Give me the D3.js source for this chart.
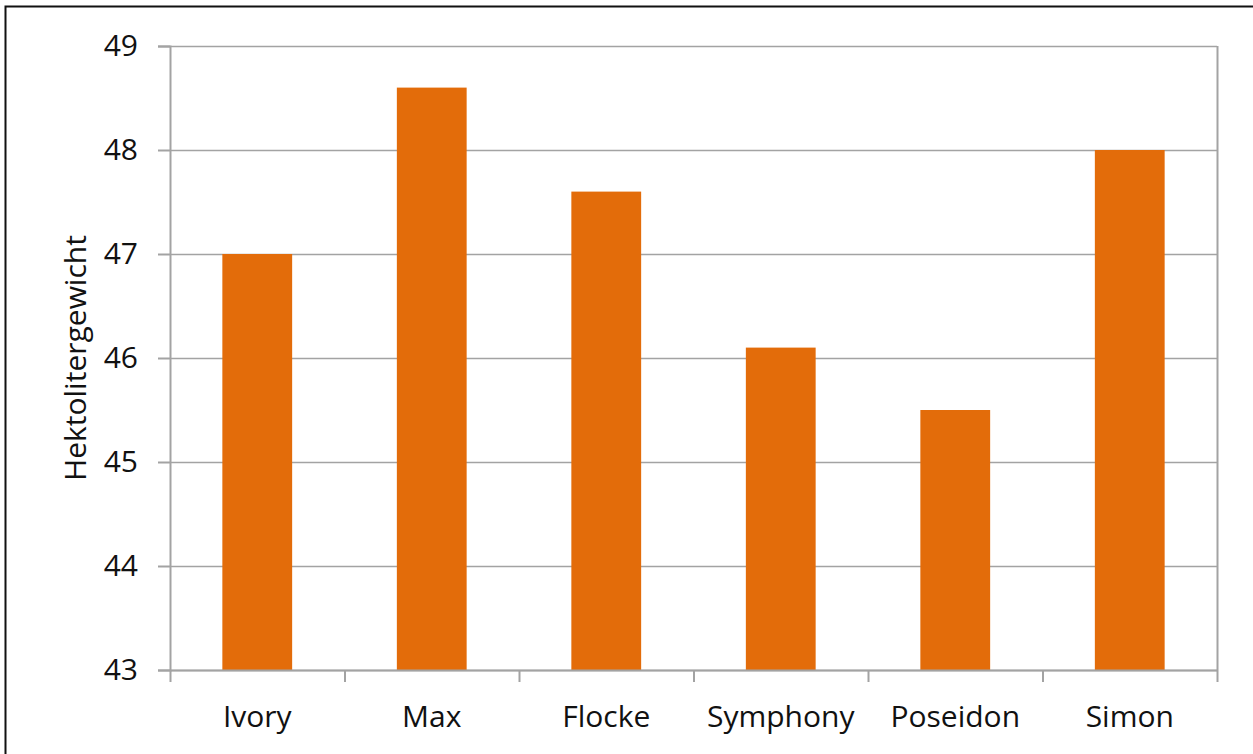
<!DOCTYPE html>
<html>
<head>
<meta charset="utf-8">
<script src="https://cdn.jsdelivr.net/npm/d3@7"></script>
<style>
  body { margin: 0; background: #fff; }
  text { font-family: "Open Sans", sans-serif; fill: #111; }
</style>
</head>
<body>
<div id="chart"></div>
<script>
// Data
var varieties = ["Ivory", "Max", "Flocke", "Symphony", "Poseidon", "Simon"];
var weights = [47.0, 48.6, 47.6, 46.1, 45.5, 48.0];
var yTicks = [43, 44, 45, 46, 47, 48, 49];
var yLabel = "Hektolitergewicht";

var svgWidth = 1253;
var svgHeight = 754;

// plot area position
var margin = { top: 46, right: 36, bottom: 84, left: 170 };
var chartWidth = svgWidth - margin.left - margin.right;
var chartHeight = svgHeight - margin.top - margin.bottom;

var svg = d3.select("#chart").append("svg")
  .attr("width", svgWidth)
  .attr("height", svgHeight);

// outer frame (only top and left visible)
svg.append("rect")
  .attr("x", 5.5).attr("y", 6.5)
  .attr("width", svgWidth + 10).attr("height", svgHeight + 10)
  .attr("fill", "none")
  .attr("stroke", "#111")
  .attr("stroke-width", 2);

var g = svg.append("g")
  .attr("transform", `translate(${margin.left}, ${margin.top})`);

var x = d3.scaleBand().domain(varieties).range([0, chartWidth]).paddingInner(0.6).paddingOuter(0.3);
var xEdges = d3.scaleLinear().domain([0, varieties.length]).range([0, chartWidth]);
var y = d3.scaleLinear().domain([43, 49]).range([chartHeight, 0]);

var gridColor = "#a3a3a3";

// horizontal gridlines
g.append("g").selectAll("line").data(yTicks).enter().append("line")
  .attr("x1", 0).attr("x2", chartWidth)
  .attr("y1", d => Math.round(y(d)) + 0.5).attr("y2", d => Math.round(y(d)) + 0.5)
  .attr("stroke", gridColor).attr("stroke-width", 1.5);

// right border of plot
g.append("line")
  .attr("x1", chartWidth + 0.5).attr("x2", chartWidth + 0.5)
  .attr("y1", 0).attr("y2", chartHeight)
  .attr("stroke", gridColor).attr("stroke-width", 2);

// bars
g.append("g").selectAll("rect").data(weights).enter().append("rect")
  .attr("x", (d, i) => x(varieties[i]))
  .attr("y", d => y(d))
  .attr("width", x.bandwidth())
  .attr("height", d => y(43) - y(d))
  .attr("fill", "#e36c0a");

// y axis
var yAxis = g.append("g")
  .call(d3.axisLeft(y).tickValues(yTicks).tickFormat(d3.format("d")).tickSize(12).tickPadding(20));
yAxis.selectAll("path, line").attr("stroke", gridColor).attr("stroke-width", 2);
yAxis.selectAll("text").attr("font-size", "30px").style("font-family", "Open Sans, sans-serif").attr("fill", "#111");

// x axis: ticks at category boundaries
var xAxisG = g.append("g").attr("transform", `translate(0, ${chartHeight})`);
xAxisG.append("line")
  .attr("x1", 0).attr("x2", chartWidth)
  .attr("y1", 0.5).attr("y2", 0.5)
  .attr("stroke", gridColor).attr("stroke-width", 2);
xAxisG.selectAll(".edge").data(d3.range(varieties.length + 1)).enter().append("line")
  .attr("class", "edge")
  .attr("x1", d => xEdges(d) + 0.5).attr("x2", d => xEdges(d) + 0.5)
  .attr("y1", 0).attr("y2", 12)
  .attr("stroke", gridColor).attr("stroke-width", 2);
xAxisG.selectAll(".lbl").data(varieties).enter().append("text")
  .attr("class", "lbl")
  .attr("x", d => x(d) + x.bandwidth() / 2)
  .attr("y", 57)
  .attr("text-anchor", "middle")
  .attr("font-size", "30px")
  .text(d => d);

// y axis title
svg.append("text")
  .attr("transform", `translate(86, 358) rotate(-90)`)
  .attr("text-anchor", "middle")
  .attr("font-size", "30px")
  .text(yLabel);
</script>
</body>
</html>
